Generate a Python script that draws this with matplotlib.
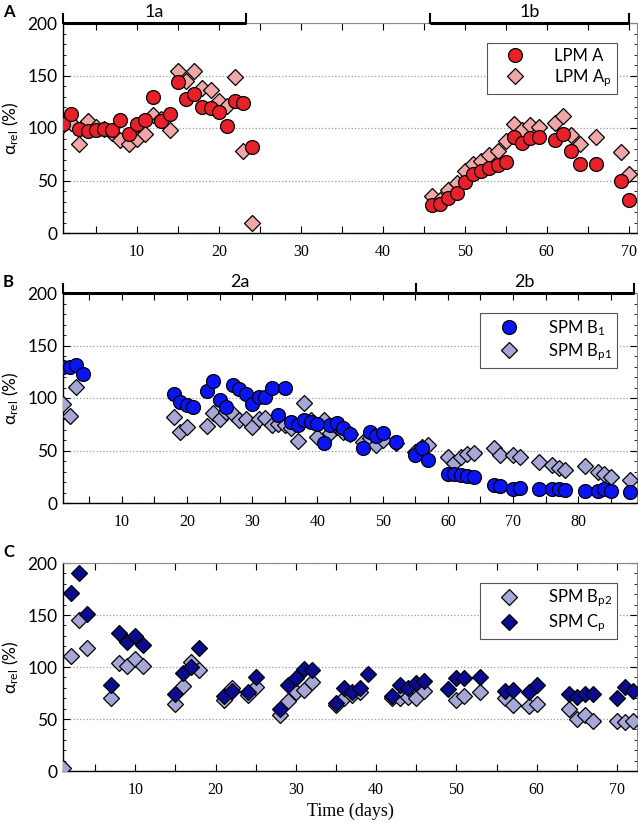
import matplotlib
matplotlib.use('Agg')
import matplotlib.pyplot as plt
import matplotlib.transforms as mtransforms
from matplotlib.ticker import MultipleLocator

SANS = ['Lato', 'DejaVu Sans']
SERIF = ['Liberation Serif', 'DejaVu Serif']

plt.rcParams['font.family'] = SANS
plt.rcParams['mathtext.default'] = 'regular'

# panel A: LPM A (circles) and LPM Ap (diamonds)
a_days = [1, 2, 3, 4, 5, 6, 7, 8, 9, 10, 11, 12, 13, 14, 15, 16, 17, 18, 19, 20, 21, 22, 23, 24,
          46, 47, 48, 49, 50, 51, 52, 53, 54, 55, 56, 57, 58, 59, 61, 62, 63, 64, 66, 69, 70]
lpm_a = [103.5, 113, 99, 97, 98.5, 99.5, 98.5, 108, 94, 103.5, 108, 130, 107, 113, 143.5, 128,
         132, 120, 119.5, 115, 102, 126, 124, 82,
         26.5, 27.5, 33.5, 38, 48.5, 56, 59, 62, 65, 67.5, 91.5, 86, 90.5, 91.5, 89, 94.5, 78,
         65.5, 66, 49.5, 31]
lpm_ap = [103, 105, 84.5, 106.5, 101, 99, 95, 89, 85, 90, 94.5, 112, 109, 98, 154, 145, 154,
          138, 136.5, 126, 120.5, 148.5, 78.5, 9.5,
          35, 31, 40.5, 47.5, 59.5, 65.5, 69, 74, 78, 88, 104, 98, 102.5, 101, 105, 111, 93,
          85, 91.5, 77, 56.5]

# panel B: SPM B1 (circles) and SPM Bp1 (diamonds)
b1_days = [1, 2, 3, 4, 18, 19, 20, 21, 23, 24, 25, 26, 27, 28, 29, 30, 31, 32, 33, 34, 35, 36,
           37, 38, 39, 40, 41, 42, 43, 44, 45, 47, 48, 49, 50, 52, 55, 56, 57, 60, 61, 62, 63,
           64, 67, 68, 70, 71, 74, 76, 77, 78, 81, 83, 84, 85, 88]
spm_b1 = [129.5, 129.5, 131, 122.5, 104, 96, 93, 91.5, 106.5, 116, 98.5, 91.5, 112, 108.5, 104,
          94.5, 101, 101, 110, 84, 110, 77, 74, 79, 77, 75.5, 57, 74.5, 76.5, 71, 66, 52, 67.5,
          64, 66.5, 58.5, 45.5, 52.5, 40.5, 27.5, 27.5, 27, 25.5, 25, 17, 16, 13.5, 14.5, 13.5,
          13, 13, 12.5, 11.5, 11.5, 13.5, 11, 10.5]
bp1_days = [1, 2, 3, 18, 19, 20, 23, 24, 25, 26, 27, 28, 29, 30, 31, 32, 33, 34, 35, 36, 37,
            38, 39, 40, 41, 42, 43, 44, 45, 47, 48, 49, 50, 52, 55, 56, 57, 60, 61, 62, 63, 64,
            67, 68, 70, 71, 74, 76, 77, 78, 81, 83, 84, 85, 88]
spm_bp1 = [94.5, 83, 110.5, 82, 68, 72, 73, 85.5, 80, 86.5, 85, 79, 80, 72, 80, 81, 74, 75.5,
           74, 71, 59, 95, 79, 62.5, 79, 67, 72, 68, 65.5, 58, 62, 55, 60, 57, 49, 53.5, 55,
           44, 38, 44, 47, 47.5, 52, 45.5, 45.5, 44, 39, 36, 33.5, 31, 35, 29.5, 27.5, 25, 21.5]

# panel C: SPM Bp2 and SPM Cp (both diamonds)
bp2_days = [1, 2, 3, 4, 7, 8, 9, 10, 11, 15, 16, 17, 18, 21, 22, 24, 25, 28, 29, 30, 31, 32,
            35, 36, 37, 38, 42, 43, 44, 45, 46, 50, 51, 53, 56, 57, 59, 60, 64, 65, 66, 67,
            70, 71, 72]
spm_bp2 = [3, 111, 145, 118.5, 70, 103.5, 101, 107.5, 101, 64, 82, 104.5, 97.5, 68, 80, 73, 81,
           54, 67.5, 76, 78, 86, 63, 70.5, 73, 75.5, 70.5, 70, 71, 70.5, 77, 68, 72, 75.5, 70,
           63.5, 62.5, 64.5, 59.5, 50, 54, 48, 48.5, 47, 48.5]
cp_days = [2, 3, 4, 7, 8, 9, 10, 11, 15, 16, 17, 18, 21, 22, 24, 25, 28, 29, 30, 31, 32, 35,
           36, 37, 38, 39, 42, 43, 44, 45, 46, 49, 50, 51, 53, 56, 57, 59, 60, 64, 65, 66, 67,
           70, 71, 72]
spm_cp = [171, 190, 150.5, 83, 132.5, 124, 130, 121, 74.5, 94, 100, 118, 72, 77, 76, 90, 60,
          83, 89, 98.5, 97, 65, 80, 75.5, 80, 93, 72, 83, 80, 85, 87, 78.5, 89.5, 89.5, 90.5,
          77, 77.5, 75.5, 82.5, 74, 71.5, 74.5, 74.5, 70.5, 81, 76.5]

# experiment periods drawn above panels A and B
periods_a = [(1, 23.3, '1a'), (45.8, 70, '1b')]
periods_b = [(1, 55.1, '2a'), (55.1, 88.5, '2b')]

RED = '#e8202a'
PINK = '#f1a7a7'
BLUE = '#0a14f5'
LAVENDER = '#a5a7d6'
NAVY = '#0b0b8f'

W, H = 638, 826
MS_O, MS_D, MEW = 10, 8.3, 0.9


def add_panel(fig, top_px, height_px, xmax):
    ax = fig.add_axes([63 / W, 1 - (top_px + height_px) / H, 574 / W, height_px / H])
    ax.set_xlim(1, xmax)
    ax.set_ylim(0, 200)
    ax.xaxis.set_major_locator(MultipleLocator(10))
    ax.xaxis.set_minor_locator(MultipleLocator(5))
    ax.yaxis.set_major_locator(MultipleLocator(50))
    ax.yaxis.set_minor_locator(MultipleLocator(10))
    ax.tick_params(axis='both', which='both', direction='in', top=True, right=True)
    ax.tick_params(axis='x', which='both', length=5, width=0.8, pad=8, labelsize=11.5)
    ax.tick_params(axis='y', which='major', length=5, width=0.8, pad=4, labelsize=12.5)
    ax.tick_params(axis='y', which='minor', length=2.5, width=0.6)
    plt.setp(ax.get_xticklabels(), family=SERIF)
    ax.grid(axis='y', which='major', linestyle=':', color='#9a9a9a', lw=0.9)
    for side in ('top', 'right'):
        ax.spines[side].set_color('#8a8a8a')
        ax.spines[side].set_linewidth(0.8)
    for side in ('left', 'bottom'):
        ax.spines[side].set_linewidth(1.0)
    ax.set_ylabel('α$_{rel}$ (%)', fontsize=12.5)
    ax.yaxis.set_label_coords(-42 / 574, 0.5)
    return ax


def period_bar(ax, x0, x1, label):
    trans = mtransforms.blended_transform_factory(ax.transData, ax.transAxes)
    ax.plot([x0, x1], [1, 1], color='k', lw=2.2, transform=trans, clip_on=False,
            solid_capstyle='butt', zorder=6)
    for x in (x0, x1):
        ax.plot([x, x], [1, 1.045], color='k', lw=1.5, transform=trans, clip_on=False,
                zorder=6)
    ax.text((x0 + x1) / 2, 1.03, label, transform=trans, ha='center', va='baseline',
            fontsize=13)


def add_legend(ax):
    leg = ax.legend(loc='upper right', bbox_to_anchor=(0.965, 0.905), frameon=True,
                    fancybox=False, edgecolor='#555555', framealpha=1, fontsize=12,
                    handletextpad=0.95, borderpad=0.3, labelspacing=0.2, handlelength=2.8,
                    borderaxespad=0)
    leg.get_frame().set_linewidth(0.8)


def diamonds(ax, x, y, color, label):
    ax.plot(x, y, ls='none', marker='D', ms=MS_D, mfc=color, mec='k', mew=MEW,
            label=label, zorder=3)


def circles(ax, x, y, color, label):
    ax.plot(x, y, ls='none', marker='o', ms=MS_O, mfc=color, mec='k', mew=MEW,
            label=label, zorder=4)


fig = plt.figure(figsize=(W / 100, H / 100), dpi=100)

ax_a = add_panel(fig, 23, 210, 71)
diamonds(ax_a, a_days, lpm_ap, PINK, None)
circles(ax_a, a_days, lpm_a, RED, None)
circles(ax_a, [], [], RED, 'LPM A')
diamonds(ax_a, [], [], PINK, 'LPM A$_p$')
for x0, x1, lab in periods_a:
    period_bar(ax_a, x0, x1, lab)
add_legend(ax_a)

ax_b = add_panel(fig, 293, 210, 89)
diamonds(ax_b, bp1_days, spm_bp1, LAVENDER, None)
circles(ax_b, b1_days, spm_b1, BLUE, None)
circles(ax_b, [], [], BLUE, 'SPM B$_1$')
diamonds(ax_b, [], [], LAVENDER, 'SPM B$_{p1}$')
for x0, x1, lab in periods_b:
    period_bar(ax_b, x0, x1, lab)
add_legend(ax_b)

ax_c = add_panel(fig, 563, 208, 72.5)
diamonds(ax_c, bp2_days, spm_bp2, LAVENDER, 'SPM B$_{p2}$')
diamonds(ax_c, cp_days, spm_cp, NAVY, 'SPM C$_p$')
add_legend(ax_c)

fig.text(350 / W, 1 - 811 / H, 'Time (days)', ha='center', va='center', family=SERIF,
         fontsize=13)
for letter, ypx in (('A', 12), ('B', 282), ('C', 552)):
    fig.text(3 / W, 1 - ypx / H, letter, ha='left', va='center', fontsize=12, weight='bold')

fig.savefig('out.png', dpi=100)
